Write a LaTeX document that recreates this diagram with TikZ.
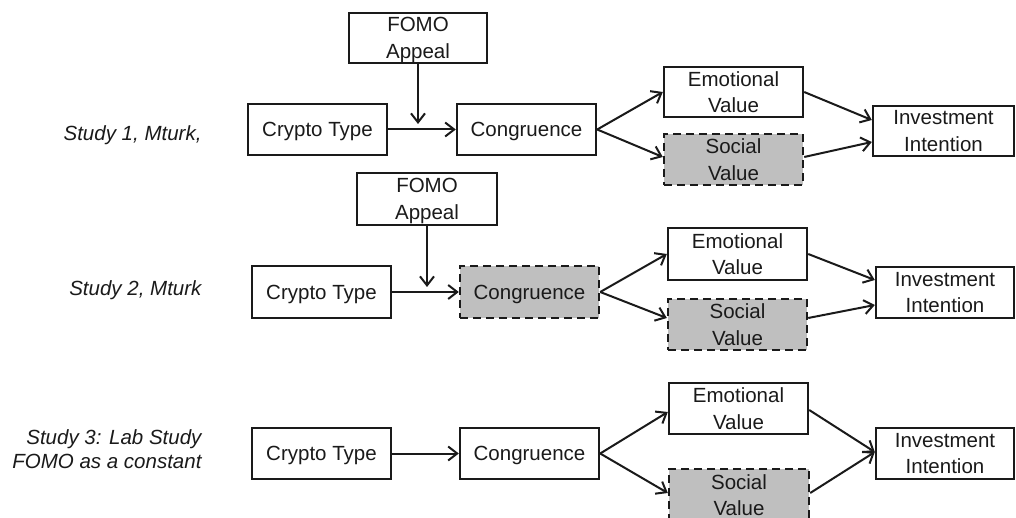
\documentclass[tikz,border=0pt]{standalone}
\usepackage{fontspec}
\setmainfont{Liberation Sans}
\usetikzlibrary{arrows.meta,calc}
\definecolor{boxgray}{HTML}{BFBFBF}
\definecolor{ink}{HTML}{1A1A1A}
\tikzset{
  box/.style={draw=ink, line width=2.4pt, inner sep=0pt, align=center, text=ink,
    text depth=0pt, font=\fontsize{20.5}{26.5}\selectfont},
  grayb/.style={box, fill=boxgray, dashed, dash pattern=on 8pt off 5pt},
  arr/.style={draw=ink, line width=2pt, -{Straight Barb[length=9pt,width=14pt]}},
  studylbl/.style={anchor=east, align=right, text=ink, text depth=0pt,
    font=\fontsize{20.5}{24}\selectfont\itshape},
}
\begin{document}
\begin{tikzpicture}[x=1pt,y=-1pt]
\useasboundingbox (0,0) rectangle (1016,518);
\clip (0,0) rectangle (1016,518);
\fill[white] (0,0) rectangle (1016,518);

% ---------- Study labels
\node[studylbl] (L1) at (205,133) {Study 1, Mturk,};
\node[studylbl] (L2) at (205,288) {Study 2, Mturk};
\node[studylbl] (L3) at (205,449) {Study 3: Lab Study\\FOMO as a constant};

% ---------- Row 1
\node[box, minimum width=138, minimum height=50] (F1) at (418,38) {FOMO\\Appeal};
\node[box, minimum width=139, minimum height=51] (C1) at (317.5,129.5) {Crypto Type};
\node[box, minimum width=139, minimum height=51] (G1) at (526.5,129.5) {Congruence};
\node[box, minimum width=139, minimum height=50] (E1) at (733.5,92) {Emotional\\Value};
\node[grayb, minimum width=139, minimum height=51] (S1) at (733.5,159.5) {Social\\Value};
\node[box, minimum width=141, minimum height=50] (I1) at (943.5,131) {Investment\\Intention};
\coordinate (m1) at (418,124);

\draw[arr] (C1.east) -- (G1.west);
\draw[arr] (F1.south) -- (m1);
\draw[arr] (G1.east) -- (E1.west);
\draw[arr] (G1.east) -- ($(S1.west)+(0,-2.5)$);
\draw[arr] (E1.east) -- ($(I1.west)+(0,-11)$);
\draw[arr] ($(S1.east)+(0,-2.5)$) -- ($(I1.west)+(0,11)$);

% ---------- Row 2
\node[box, minimum width=140, minimum height=52] (F2) at (427,199) {FOMO\\Appeal};
\node[box, minimum width=139, minimum height=52] (C2) at (321.5,292) {Crypto Type};
\node[grayb, minimum width=139, minimum height=52] (G2) at (529.5,292) {Congruence};
\node[box, minimum width=139, minimum height=52] (E2) at (737.5,254) {Emotional\\Value};
\node[grayb, minimum width=139, minimum height=51] (S2) at (737.5,324.5) {Social\\Value};
\node[box, minimum width=138, minimum height=51] (I2) at (945,292.5) {Investment\\Intention};
\coordinate (m2) at (427,287);

\draw[arr] (C2.east) -- (G2.west);
\draw[arr] (F2.south) -- (m2);
\draw[arr] (G2.east) -- (E2.west);
\draw[arr] (G2.east) -- ($(S2.west)+(0,-6.5)$);
\draw[arr] (E2.east) -- ($(I2.west)+(0,-12.5)$);
\draw[arr] ($(S2.east)+(0,-6.5)$) -- ($(I2.west)+(0,12.5)$);

% ---------- Row 3
\node[box, minimum width=139, minimum height=51] (C3) at (321.5,453.5) {Crypto Type};
\node[box, minimum width=139, minimum height=51] (G3) at (529.5,453.5) {Congruence};
\node[box, minimum width=139, minimum height=51] (E3) at (738.5,408.5) {Emotional\\Value};
\node[grayb, minimum width=140, minimum height=52] (S3) at (739,495) {Social\\Value};
\node[box, minimum width=138, minimum height=51] (I3) at (945,453.5) {Investment\\Intention};

\draw[arr] (C3.east) -- (G3.west);
\draw[arr] (G3.east) -- ($(E3.west)+(0,3.5)$);
\draw[arr] (G3.east) -- ($(S3.west)+(0,-2)$);
\draw[arr] ($(E3.east)+(0,1.5)$) -- ($(I3.west)+(0,-1.5)$);
\draw[arr] ($(S3.east)+(0,-2)$) -- ($(I3.west)+(0,-1.5)$);
\end{tikzpicture}
\end{document}
